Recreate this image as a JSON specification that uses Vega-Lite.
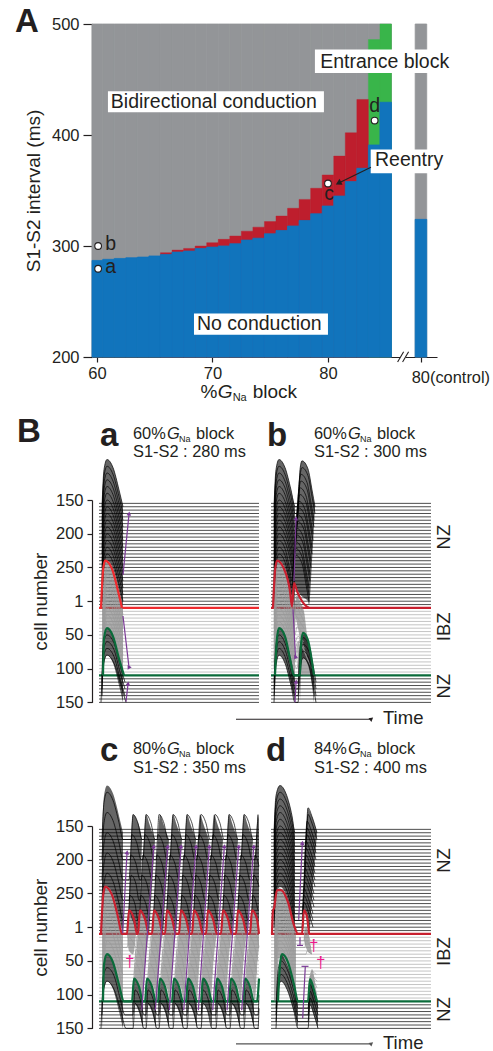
{"$schema":"https://vega.github.io/schema/vega-lite/v6.json","background":"white","padding":{"left":14,"top":5,"right":0,"bottom":0},"spacing":6,
"config":{"view":{"stroke":null},"axis":{"grid":false,"labelFont":"Liberation Sans","titleFont":"Liberation Sans","labelFontSize":16.5,"titleFontSize":19,"titleFontWeight":"normal","labelColor":"#231f20","titleColor":"#231f20","domainColor":"#231f20","tickColor":"#231f20","domainWidth":1.2,"tickWidth":1.2,"labelOverlap":false,"labelBound":false}},
"datasets":{
"col":[{"l":59.57,"u":60.5,"o":200,"h":500,"b":287,"r":287,"g":287},{"l":60.5,"u":61.5,"o":200,"h":500,"b":288,"r":288,"g":288},{"l":61.5,"u":62.5,"o":200,"h":500,"b":288.8,"r":288.8,"g":288.8},{"l":62.5,"u":63.5,"o":200,"h":500,"b":289.4,"r":289.4,"g":289.4},{"l":63.5,"u":64.5,"o":200,"h":500,"b":290,"r":290,"g":290},{"l":64.5,"u":65.5,"o":200,"h":500,"b":291,"r":291,"g":291},{"l":65.5,"u":66.5,"o":200,"h":500,"b":292.4,"r":294,"g":294},{"l":66.5,"u":67.5,"o":200,"h":500,"b":294.5,"r":296.3,"g":296.3},{"l":67.5,"u":68.5,"o":200,"h":500,"b":295.4,"r":297.8,"g":297.8},{"l":68.5,"u":69.5,"o":200,"h":500,"b":297.8,"r":300,"g":300},{"l":69.5,"u":70.5,"o":200,"h":500,"b":299,"r":303,"g":303},{"l":70.5,"u":71.5,"o":200,"h":500,"b":300,"r":306,"g":306},{"l":71.5,"u":72.5,"o":200,"h":500,"b":302,"r":309,"g":309},{"l":72.5,"u":73.5,"o":200,"h":500,"b":305.3,"r":313.4,"g":313.4},{"l":73.5,"u":74.5,"o":200,"h":500,"b":307,"r":317,"g":317},{"l":74.5,"u":75.5,"o":200,"h":500,"b":311,"r":322,"g":322},{"l":75.5,"u":76.5,"o":200,"h":500,"b":314,"r":327,"g":327},{"l":76.5,"u":77.5,"o":200,"h":500,"b":318,"r":334,"g":334},{"l":77.5,"u":78.5,"o":200,"h":500,"b":323,"r":342,"g":342},{"l":78.5,"u":79.5,"o":200,"h":500,"b":329,"r":352,"g":352},{"l":79.5,"u":80.5,"o":200,"h":500,"b":336,"r":364,"g":364},{"l":80.5,"u":81.5,"o":200,"h":500,"b":345,"r":381,"g":381},{"l":81.5,"u":82.5,"o":200,"h":500,"b":358,"r":402,"g":402},{"l":82.5,"u":83.5,"o":200,"h":500,"b":370,"r":432,"g":432},{"l":83.5,"u":84.5,"o":200,"h":500,"b":391,"r":391,"g":486},{"l":84.5,"u":85.5,"o":200,"h":500,"b":429.5,"r":429.5,"g":500},{"l":87.55,"u":88.55,"o":200,"h":500,"b":324,"r":324,"g":324}],
"box":[{"l":60.95,"u":79.65,"b":420.5,"h":439.4},{"l":78.87,"u":91,"b":455.9,"h":477},{"l":83.7,"u":90.4,"b":365.6,"h":386.9},{"l":68.4,"u":80,"b":220,"h":239.3},{"l":86.25,"u":86.75,"b":198.5,"h":201.5},{"l":60,"u":60.1,"b":153.2,"h":153.3}],
"pts":[{"t":60.1,"y":279.5},{"t":60.1,"y":300},{"t":80,"y":356.3},{"t":84.04,"y":413}],
"arr":[{"p":"A","t":83.72,"y":371,"e":80.98,"f":357,"d":"A"},{"p":"A","t":86.03,"y":195.5,"e":86.55,"f":204.8,"d":"K"},{"p":"A","t":86.46,"y":195.5,"e":86.98,"f":204.8,"d":"K"},
{"p":"a","t":31,"y":111,"e":37,"f":21,"d":"u"},{"p":"a","t":31,"y":172,"e":37,"f":248,"d":"d"},{"p":"a","t":34,"y":299,"e":36,"f":273,"d":"u"},{"p":"a","t":144,"y":325,"e":279,"f":325,"d":"T"},
{"p":"b","t":23,"y":120,"e":25,"f":28,"d":"u"},{"p":"b","t":22,"y":162,"e":24.5,"f":233,"d":"d"},{"p":"b","t":24,"y":300,"e":25,"f":270,"d":"u"},
{"p":"c","t":30.7,"y":159,"e":35,"f":40,"d":"u"},{"p":"c","t":49.7,"y":273,"e":61.7,"f":31,"d":"u"},{"p":"c","t":63.3,"y":273,"e":75.7,"f":31,"d":"u"},{"p":"c","t":77.3,"y":273,"e":89,"f":31,"d":"u"},{"p":"c","t":91.7,"y":273,"e":104,"f":31,"d":"u"},{"p":"c","t":106.3,"y":273,"e":117.3,"f":31,"d":"u"},{"p":"c","t":120.7,"y":273,"e":132.3,"f":31,"d":"u"},{"p":"c","t":135,"y":273,"e":146.7,"f":31,"d":"u"},{"p":"c","t":149.7,"y":273,"e":161.7,"f":31,"d":"u"},{"p":"c","t":144,"y":323,"e":279,"f":323,"d":"T"},
{"p":"d","t":27.7,"y":139,"e":31.3,"f":26,"d":"u"},{"p":"d","t":29,"y":165,"e":29,"f":177,"d":"n"},{"p":"d","t":26,"y":177,"e":32,"f":177,"d":"n"},{"p":"d","t":31.7,"y":285,"e":34.3,"f":208,"d":"n"},{"p":"d","t":30.5,"y":208,"e":37.5,"f":208,"d":"n"}],
"txt":[{"p":"A","t":52.9,"y":492.8,"s":"A","k":"b"},{"p":"A","t":61.2,"y":424.4,"s":"Bidirectional conduction","k":"t"},{"p":"A","t":79.33,"y":460.4,"s":"Entrance block","k":"t"},{"p":"A","t":84.07,"y":372.2,"s":"Reentry","k":"t"},{"p":"A","t":68.66,"y":224.3,"s":"No conduction","k":"t"},{"p":"A","t":60.72,"y":275.9,"s":"a","k":"t"},{"p":"A","t":60.72,"y":296.3,"s":"b","k":"t"},{"p":"A","t":79.68,"y":341,"s":"c","k":"t"},{"p":"A","t":83.58,"y":420.8,"s":"d","k":"t"},{"p":"A","t":87.25,"y":176.6,"s":"80(control)","k":"n"},{"p":"A","t":68.96,"y":163,"s":"%","k":"x"},{"p":"A","t":70.45,"y":163,"s":"G","k":"y"},{"p":"A","t":71.75,"y":160.4,"s":"Na","k":"z"},{"p":"A","t":73.48,"y":163,"s":"block","k":"x"},
{"p":"a","t":-75,"y":-86,"s":"B","k":"b"},{"p":"a","t":8,"y":-80,"s":"a","k":"b"},{"p":"a","t":41,"y":-90,"s":"60%","k":"n"},{"p":"a","t":75,"y":-90,"s":"G","k":"i"},{"p":"a","t":87,"y":-86,"s":"Na","k":"s"},{"p":"a","t":104,"y":-90,"s":"block","k":"n"},{"p":"a","t":41,"y":-64,"s":"S1-S2 : 280 ms","k":"n"},
{"p":"b","t":-4,"y":-80,"s":"b","k":"b"},{"p":"b","t":43,"y":-90,"s":"60%","k":"n"},{"p":"b","t":77,"y":-90,"s":"G","k":"i"},{"p":"b","t":89,"y":-86,"s":"Na","k":"s"},{"p":"b","t":106,"y":-90,"s":"block","k":"n"},{"p":"b","t":43,"y":-64,"s":"S1-S2 : 300 ms","k":"n"},{"p":"b","t":112,"y":332,"s":"Time","k":"t"},{"p":"b","t":179,"y":55,"s":"NZ","k":"r"},{"p":"b","t":179,"y":188,"s":"IBZ","k":"r"},{"p":"b","t":179,"y":276,"s":"NZ","k":"r"},
{"p":"c","t":8,"y":-97,"s":"c","k":"b"},{"p":"c","t":41,"y":-107,"s":"80%","k":"n"},{"p":"c","t":75,"y":-107,"s":"G","k":"i"},{"p":"c","t":87,"y":-103,"s":"Na","k":"s"},{"p":"c","t":104,"y":-107,"s":"block","k":"n"},{"p":"c","t":41,"y":-79,"s":"S1-S2 : 350 ms","k":"n"},{"p":"c","t":33,"y":209,"s":"†","k":"d"},
{"p":"d","t":-5,"y":-97,"s":"d","k":"b"},{"p":"d","t":43,"y":-107,"s":"84%","k":"n"},{"p":"d","t":77,"y":-107,"s":"G","k":"i"},{"p":"d","t":89,"y":-103,"s":"Na","k":"s"},{"p":"d","t":106,"y":-107,"s":"block","k":"n"},{"p":"d","t":43,"y":-79,"s":"S1-S2 : 400 ms","k":"n"},{"p":"d","t":112,"y":331,"s":"Time","k":"t"},{"p":"d","t":179,"y":51,"s":"NZ","k":"r"},{"p":"d","t":179,"y":186,"s":"IBZ","k":"r"},{"p":"d","t":179,"y":272,"s":"NZ","k":"r"},{"p":"d","t":38,"y":186,"s":"†","k":"d"},{"p":"d","t":45,"y":211,"s":"†","k":"d"}],
"base":[{"y":5,"t":7,"e":167,"u":0,"w":160},{"y":10,"t":7,"e":167,"u":0,"w":160},{"y":15,"t":7,"e":167,"u":0,"w":160},{"y":20,"t":7,"e":167,"u":0,"w":160},{"y":25,"t":7,"e":167,"u":0,"w":160},{"y":30,"t":7,"e":167,"u":0,"w":160},{"y":35,"t":7,"e":167,"u":0,"w":160},{"y":40,"t":7,"e":167,"u":0,"w":160},{"y":45,"t":7,"e":167,"u":0,"w":160},{"y":50,"t":7,"e":167,"u":0,"w":160},{"y":55,"t":7,"e":167,"u":0,"w":160},{"y":60,"t":7,"e":167,"u":0,"w":160},{"y":65,"t":7,"e":167,"u":0,"w":160},{"y":70,"t":7,"e":167,"u":0,"w":160},{"y":75,"t":7,"e":167,"u":0,"w":160},{"y":80,"t":7,"e":167,"u":0,"w":160},{"y":85,"t":7,"e":167,"u":0,"w":160},{"y":90,"t":7,"e":167,"u":0,"w":160},{"y":95,"t":7,"e":167,"u":0,"w":160},{"y":100,"t":7,"e":167,"u":0,"w":160},{"y":105,"t":7,"e":167,"u":0,"w":160},{"y":110,"t":7,"e":167,"u":0,"w":160},{"y":115,"t":7,"e":167,"u":0,"w":160},{"y":120,"t":7,"e":167,"u":0,"w":160},{"y":125,"t":7,"e":167,"u":0,"w":160},{"y":130,"t":7,"e":167,"u":0,"w":160},{"y":135,"t":7,"e":167,"u":0,"w":160},{"y":140,"t":7,"e":167,"u":0,"w":160},{"y":145,"t":7,"e":167,"u":0,"w":160},{"y":150,"t":7,"e":167,"u":0,"w":160},{"y":155,"t":7,"e":167,"u":0,"w":160},{"y":165,"t":7,"e":167,"u":0,"w":160},{"y":170,"t":7,"e":167,"u":0,"w":160},{"y":175,"t":7,"e":167,"u":0,"w":160},{"y":180,"t":7,"e":167,"u":0,"w":160},{"y":185,"t":7,"e":167,"u":0,"w":160},{"y":190,"t":7,"e":167,"u":0,"w":160},{"y":195,"t":7,"e":167,"u":0,"w":160},{"y":200,"t":7,"e":167,"u":0,"w":160},{"y":205,"t":7,"e":167,"u":0,"w":160},{"y":210,"t":7,"e":167,"u":0,"w":160},{"y":215,"t":7,"e":167,"u":0,"w":160},{"y":220,"t":7,"e":167,"u":0,"w":160},{"y":225,"t":7,"e":167,"u":0,"w":160},{"y":230,"t":7,"e":167,"u":0,"w":160},{"y":235,"t":7,"e":167,"u":0,"w":160},{"y":240,"t":7,"e":167,"u":0,"w":160},{"y":245,"t":7,"e":167,"u":0,"w":160},{"y":250,"t":7,"e":167,"u":0,"w":160},{"y":255,"t":7,"e":167,"u":0,"w":160},{"y":265,"t":7,"e":167,"u":0,"w":160},{"y":270,"t":7,"e":167,"u":0,"w":160},{"y":275,"t":7,"e":167,"u":0,"w":160},{"y":280,"t":7,"e":167,"u":0,"w":160},{"y":285,"t":7,"e":167,"u":0,"w":160},{"y":290,"t":7,"e":167,"u":0,"w":160},{"y":295,"t":7,"e":167,"u":0,"w":160},{"y":300,"t":7,"e":167,"u":0,"w":160},{"y":160,"t":7,"e":167,"u":0,"w":160},{"y":260,"t":7,"e":167,"u":0,"w":160}],
"ra":[{"z":"N","b":1,"t":[10,12,15,21,27,31],"y":[10,-45,-60,-48,-15,10],"e":[160,105,90,102,135,160]},{"z":"G","b":2,"t":[10,12,15,21,27,31],"y":[160,105,90,102,135,160],"e":[260,205,190,202,235,260]},{"z":"L","b":3,"t":[10,12,15,21,27,31],"y":[260,205,190,202,235,260],"e":[300,245,230,242,275,300]}],
"la":[{"n":10,"t":[10,12,15,21,27,31],"y":[10,-45,-60,-48,-15,10]},{"n":20,"t":[10,12,15,21,27,31],"y":[20,-35,-50,-38,-5,20]},{"n":30,"t":[10,12,15,21,27,31],"y":[30,-25,-40,-28,5,30]},{"n":40,"t":[10,12,15,21,27,31],"y":[40,-15,-30,-18,15,40]},{"n":50,"t":[10,12,15,21,27,31],"y":[50,-5,-20,-8,25,50]},{"n":60,"t":[10,12,15,21,27,31],"y":[60,5,-10,2,35,60]},{"n":70,"t":[10,12,15,21,27,31],"y":[70,15,0,12,45,70]},{"n":80,"t":[10,12,15,21,27,31],"y":[80,25,10,22,55,80]},{"n":90,"t":[10,12,15,21,27,31],"y":[90,35,20,32,65,90]},{"n":100,"t":[10,12,15,21,27,31],"y":[100,45,30,42,75,100]},{"n":110,"t":[10,12,15,21,27,31],"y":[110,55,40,52,85,110]},{"n":120,"t":[10,12,15,21,27,31],"y":[120,65,50,62,95,120]},{"n":130,"t":[10,12,15,21,27,31],"y":[130,75,60,72,105,130]},{"n":140,"t":[10,12,15,21,27,31],"y":[140,85,70,82,115,140]},{"n":150,"t":[10,12,15,21,27,31],"y":[150,95,80,92,125,150]},
{"n":170,"t":[11,13,15,21,27,31],"y":[170,115,100,112,145,170]},{"n":180,"t":[11,13,15,21,27,31],"y":[180,125,110,122,155,180]},{"n":190,"t":[11,13,15,21,27,31],"y":[190,135,120,132,165,190]},{"n":200,"t":[11,13,15,21,27,31],"y":[200,145,130,142,175,200]},{"n":210,"t":[11,13,15,21,27,31],"y":[210,155,140,152,185,210]},{"n":220,"t":[11,13,15,21,27,31],"y":[220,165,150,162,195,220]},{"n":230,"t":[11,13,15,21,27,31],"y":[230,175,160,172,205,230]},{"n":240,"t":[11,13,15,21,27,31],"y":[240,185,170,182,215,240]},{"n":250,"t":[11,13,15,21,27,31],"y":[250,195,180,192,225,250]},
{"n":270,"t":[10,11,15,22,28,33],"y":[270,215,200,212,245,270]},{"n":280,"t":[10,11,15,22,28,33],"y":[280,225,210,222,255,280]},{"n":290,"t":[10,11,15,22,28,33],"y":[290,235,220,232,265,290]},{"n":300,"t":[9,11,15,22,29,34],"y":[300,245,230,242,275,300]},{"n":160,"t":[9,11,13,20,26,30],"y":[160,105,90,102,135,160]},{"n":260,"t":[11,12,15,21,27,32],"y":[260,205,190,202,235,260]}],
"rb":[{"z":"N","b":1,"t":[3,5,8,14,20,24],"y":[10,-45,-60,-48,-15,10],"e":[160,105,90,102,135,160]},{"z":"G","b":2,"t":[3,5,8,14,20,24],"y":[160,105,90,102,135,160],"e":[260,205,190,202,235,260]},{"z":"L","b":3,"t":[3,5,8,14,20,24],"y":[260,205,190,202,235,260],"e":[300,245,230,242,275,300]},{"z":"N","b":4,"t":[23,27,29,31,37,38,41,44],"y":[120,10,-45,-58,-46,-40,-15,10],"e":[125,135,140,143,150,155,90,10]},{"z":"G","b":5,"t":[23,27,29,33,36,41],"y":[160,140,150,165,200,250],"e":[165,190,205,225,235,250]},{"z":"G","b":6,"t":[27,29,32,37,41,43],"y":[230,212,205,210,240,260],"e":[250,258,260,260,260,260]},{"z":"L","b":7,"t":[29,30,32,37,41,43],"y":[260,215,197,208,240,260],"e":[300,255,234,245,275,300]}],
"lb":[{"n":10,"t":[3,5,8,14,20,24,27,29,31,37,41,44],"y":[10,-45,-60,-48,-15,10,10,-45,-58,-46,-15,10]},{"n":20,"t":[3,5,8,14,20,24,27,29,31,37,41,44],"y":[20,-35,-50,-38,-5,20,20,-35,-48,-36,-5,20]},{"n":30,"t":[3,5,8,14,20,24,26,28,30,36,40,43],"y":[30,-25,-40,-28,5,30,30,-25,-38,-26,5,30]},{"n":40,"t":[3,5,8,14,20,24,26,28,30,36,40,43],"y":[40,-15,-30,-18,15,40,40,-15,-28,-16,15,40]},{"n":50,"t":[3,5,8,14,20,24,25,27,29,35,39,42],"y":[50,-5,-20,-8,25,50,50,-5,-18,-6,25,50]},{"n":60,"t":[3,5,8,14,20,24,25,27,29,35,39,42],"y":[60,5,-10,2,35,60,60,5,-8,4,35,60]},{"n":70,"t":[3,5,8,14,20,24,26,28,34,38,41],"y":[70,15,0,12,45,70,15,2,14,45,70]},{"n":80,"t":[3,5,8,14,20,24,26,28,34,38,41],"y":[80,25,10,22,55,80,25,12,24,55,80]},{"n":90,"t":[3,5,8,14,20,23,25,27,33,37,40],"y":[90,35,20,32,65,86,35,22,34,65,90]},{"n":100,"t":[3,5,8,14,20,23,25,27,33,37,40],"y":[100,45,30,42,75,96,45,32,44,75,100]},{"n":110,"t":[3,5,8,14,20,22,24,26,32,36,39],"y":[110,55,40,52,85,102,55,42,54,85,110]},{"n":120,"t":[3,5,8,14,20,22,24,26,32,36,39],"y":[120,65,50,62,95,112,65,52,64,95,120]},{"n":130,"t":[3,5,8,14,19,21,23,25,31,35,38],"y":[130,75,60,72,105,120,75,62,74,105,130]},{"n":140,"t":[3,5,8,14,19,21,23,25,31,35,38],"y":[140,85,70,82,115,130,85,72,84,115,140]},{"n":150,"t":[3,5,8,14,19,21,23,25,31,35,38],"y":[150,95,80,92,125,140,95,82,94,125,150]},
{"n":170,"t":[3,5,7,14,20,22,24,28,33],"y":[170,115,100,112,145,170,140,155,170]},{"n":180,"t":[3,5,7,14,20,23,25,29,33],"y":[180,125,110,122,155,180,156,168,180]},{"n":190,"t":[3,5,7,14,20,23,25,29,33],"y":[190,135,120,132,165,190,172,181,190]},{"n":200,"t":[3,5,7,14,20,24,26,30,33],"y":[200,145,130,142,175,200,188,194,200]},{"n":210,"t":[3,5,7,14,20,24,27,30,33],"y":[210,155,140,152,185,210,202,206,210]},{"n":220,"t":[3,5,7,14,20,24,27,31,34],"y":[220,165,150,162,195,220,210,215,220]},{"n":230,"t":[3,5,7,14,20,24,28,32,36],"y":[230,175,160,172,205,230,210,220,230]},{"n":240,"t":[3,5,7,14,20,24,29,33,38],"y":[240,185,170,182,215,240,208,224,240]},{"n":250,"t":[3,5,7,14,20,26,29,34,41],"y":[250,195,180,192,225,250,202,226,250]},
{"n":270,"t":[3,5,8,14,20,24,27,29,32,38,42,45],"y":[270,215,200,212,245,270,270,220,204,215,245,270]},{"n":280,"t":[3,5,8,14,20,24,27,29,32,38,42,45],"y":[280,225,210,222,255,280,280,230,214,225,255,280]},{"n":290,"t":[3,5,8,14,20,24,27,29,32,38,42,45],"y":[290,235,220,232,265,290,290,240,224,235,265,290]},{"n":300,"t":[3,5,8,14,20,24,27,29,32,38,42,45],"y":[300,245,230,242,275,300,300,250,234,245,275,300]},{"n":160,"t":[2,4,6,13,19,21,23,26,33,38],"y":[160,105,90,102,135,158,123,135,154,160]},{"n":260,"t":[4,6,8,14,19,23,29,30,32,37,41,43],"y":[260,205,190,202,235,260,260,215,197,208,240,260]}],
"rc":[{"z":"N","b":1,"t":[10,12,15,21,27,31],"y":[10,-45,-60,-48,-15,10],"e":[160,105,90,102,135,160]},{"z":"G","b":2,"t":[10,12,15,21,27,31],"y":[160,105,90,102,135,160],"e":[260,205,190,202,235,260]},{"z":"L","b":3,"t":[10,12,15,21,27,31],"y":[260,205,190,202,235,260],"e":[300,245,230,242,275,300]},{"z":"G","b":4,"t":[35,37,41,44],"y":[160,125,138,160],"e":[160,185,190,160]},
{"z":"N","b":10,"t":[35,37,39,41,46,48,50],"y":[160,113,20,-17,-5,4,20],"e":[160,125,135,142,160,113,20]},{"z":"N","b":11,"t":[46,48,52,54,57,59,63],"y":[160,113,20,-17,-5,4,20],"e":[160,125,135,142,160,113,20]},{"z":"N","b":12,"t":[60,62,66,68,71,73,77],"y":[160,113,20,-17,-5,4,20],"e":[160,125,135,142,160,113,20]},{"z":"N","b":13,"t":[73,75,79,81,84,86,90],"y":[160,113,20,-17,-5,4,20],"e":[160,125,135,142,160,113,20]},{"z":"N","b":14,"t":[87,89,93,95,98,100,104],"y":[160,113,20,-17,-5,4,20],"e":[160,125,135,142,160,113,20]},{"z":"N","b":15,"t":[100,102,106,108,111,113,117],"y":[160,113,20,-17,-5,4,20],"e":[160,125,135,142,160,113,20]},{"z":"N","b":16,"t":[114,116,120,122,125,127,131],"y":[160,113,20,-17,-5,4,20],"e":[160,125,135,142,160,113,20]},{"z":"N","b":17,"t":[129,131,135,137,140,142,146],"y":[160,113,20,-17,-5,4,20],"e":[160,125,135,142,160,113,20]},{"z":"N","b":18,"t":[144,146,150,152,155,157,161],"y":[160,113,20,-17,-5,4,20],"e":[160,125,135,142,160,113,20]},{"z":"N","b":19,"t":[158,160,164,166,167],"y":[160,113,20,-17,-10],"e":[160,125,135,142,150]},
{"z":"G","b":21,"t":[40,42,46,48,51,53,57],"y":[260,227,160,125,132,138,160],"e":[260,225,235,240,260,210,160]},{"z":"G","b":22,"t":[54,56,60,62,65,67,71],"y":[260,227,160,125,132,138,160],"e":[260,225,235,240,260,210,160]},{"z":"G","b":23,"t":[67,69,73,75,78,80,84],"y":[260,227,160,125,132,138,160],"e":[260,225,235,240,260,210,160]},{"z":"G","b":24,"t":[81,83,87,89,92,94,98],"y":[260,227,160,125,132,138,160],"e":[260,225,235,240,260,210,160]},{"z":"G","b":25,"t":[94,96,100,102,105,107,111],"y":[260,227,160,125,132,138,160],"e":[260,225,235,240,260,210,160]},{"z":"G","b":26,"t":[108,110,114,116,119,121,125],"y":[260,227,160,125,132,138,160],"e":[260,225,235,240,260,210,160]},{"z":"G","b":27,"t":[123,125,129,131,134,136,140],"y":[260,227,160,125,132,138,160],"e":[260,225,235,240,260,210,160]},{"z":"G","b":28,"t":[138,140,144,146,149,151,155],"y":[260,227,160,125,132,138,160],"e":[260,225,235,240,260,210,160]},{"z":"G","b":29,"t":[152,154,158,160,163,165,167],"y":[260,227,160,125,132,138,150],"e":[260,225,235,240,260,210,180]},
{"z":"L","b":31,"t":[40,42,47,51],"y":[260,225,238,260],"e":[300,263,276,300]},{"z":"L","b":32,"t":[53,55,60,64],"y":[260,225,238,260],"e":[300,263,276,300]},{"z":"L","b":33,"t":[66,68,73,77],"y":[260,225,238,260],"e":[300,263,276,300]},{"z":"L","b":34,"t":[80,82,87,91],"y":[260,225,238,260],"e":[300,263,276,300]},{"z":"L","b":35,"t":[94,96,101,105],"y":[260,225,238,260],"e":[300,263,276,300]},{"z":"L","b":36,"t":[109,111,116,120],"y":[260,225,238,260],"e":[300,263,276,300]},{"z":"L","b":37,"t":[123,125,130,134],"y":[260,225,238,260],"e":[300,263,276,300]},{"z":"L","b":38,"t":[137,139,144,148],"y":[260,225,238,260],"e":[300,263,276,300]},{"z":"L","b":39,"t":[151,153,158,162],"y":[260,225,238,260],"e":[300,263,276,300]}],
"lc":[{"n":20,"t":[10,12,15,21,27,31,39,41,46,50,52,54,59,63,65,67,72,76,79,81,86,90,93,95,100,104,107,109,114,118,121,123,128,132,135,137,142,146,150,152,157,161,164,166],"y":[20,-35,-50,-38,-5,20,20,-17,-4,20,20,-17,-4,20,20,-17,-4,20,20,-17,-4,20,20,-17,-4,20,20,-17,-4,20,20,-17,-4,20,20,-17,-4,20,20,-17,-4,20,20,-17]},
{"n":50,"t":[10,12,15,21,27,31,38,40,45,49,51,53,58,62,64,66,71,75,78,80,85,89,92,94,99,103,105,107,112,116,119,121,126,130,134,136,141,145,149,151,156,160,163,165],"y":[50,-5,-20,-8,25,50,50,13,26,50,50,13,26,50,50,13,26,50,50,13,26,50,50,13,26,50,50,13,26,50,50,13,26,50,50,13,26,50,50,13,26,50,50,13]},
{"n":80,"t":[10,12,15,21,27,31,37,39,44,48,49,51,56,60,63,65,70,74,76,78,83,87,90,92,97,101,103,105,110,114,117,119,124,128,132,134,139,143,147,149,154,158,161,163,167],"y":[80,25,10,22,55,80,80,43,56,80,80,43,56,80,80,43,56,80,80,43,56,80,80,43,56,80,80,43,56,80,80,43,56,80,80,43,56,80,80,43,56,80,80,43,60]},
{"n":110,"t":[10,12,15,21,27,31,37,39,44,47,48,50,55,59,62,64,69,73,75,77,82,86,89,91,96,100,102,104,109,113,116,118,123,127,131,133,138,142,146,148,153,157,160,162,167],"y":[110,55,40,52,85,110,110,73,86,110,110,73,86,110,110,73,86,110,110,73,86,110,110,73,86,110,110,73,86,110,110,73,86,110,110,73,86,110,110,73,86,110,110,73,90]},
{"n":140,"t":[10,12,15,21,27,31,36,38,43,46,47,49,54,58,61,63,68,72,74,76,81,85,88,90,95,99,101,103,108,112,115,117,122,126,130,132,137,141,145,147,152,156,159,161,166],"y":[140,85,70,82,115,140,140,103,116,140,140,103,116,140,140,103,116,140,140,103,116,140,140,103,116,140,140,103,116,140,140,103,116,140,140,103,116,140,140,103,116,140,140,103,125]},
{"n":180,"t":[11,13,15,21,27,31,35,37,41,44,45,47,52,56,59,61,66,70,72,74,79,83,86,88,93,97,99,101,106,110,113,115,120,124,128,130,135,139,143,145,150,154,157,159,164,167],"y":[180,125,110,122,155,180,180,165,172,180,180,145,158,180,180,145,158,180,180,145,158,180,180,145,158,180,180,145,158,180,180,145,158,180,180,145,158,180,180,145,158,180,180,145,158,180]},
{"n":200,"t":[11,13,15,21,27,31,43,45,50,54,57,59,64,68,70,72,77,81,84,86,91,95,97,99,104,108,111,113,118,122,126,128,133,137,141,143,148,152,155,157,162,166],"y":[200,145,130,142,175,200,200,163,176,200,200,163,176,200,200,163,176,200,200,163,176,200,200,163,176,200,200,163,176,200,200,163,176,200,200,163,176,200,200,163,176,200]},
{"n":220,"t":[11,13,15,21,27,31,42,44,49,53,56,58,63,67,69,71,76,80,83,85,90,94,96,98,103,107,110,112,117,121,125,127,132,136,140,142,147,151,154,156,161,165],"y":[220,165,150,162,195,220,220,183,196,220,220,183,196,220,220,183,196,220,220,183,196,220,220,183,196,220,220,183,196,220,220,183,196,220,220,183,196,220,220,183,196,220]},
{"n":240,"t":[11,13,15,21,27,31,41,43,48,52,55,57,62,66,68,70,75,79,82,84,89,93,95,97,102,106,109,111,116,120,124,126,131,135,139,141,146,150,153,155,160,164],"y":[240,185,170,182,215,240,240,203,216,240,240,203,216,240,240,203,216,240,240,203,216,240,240,203,216,240,240,203,216,240,240,203,216,240,240,203,216,240,240,203,216,240]},
{"n":280,"t":[10,11,15,22,28,33,41,43,48,52,54,56,61,65,67,69,74,78,81,83,88,92,95,97,102,106,109,111,116,120,124,126,131,135,138,140,145,149,152,154,159,163,166,167],"y":[280,225,210,222,255,280,280,243,256,280,280,243,256,280,280,243,256,280,280,243,256,280,280,243,256,280,280,243,256,280,280,243,256,280,280,243,256,280,280,243,256,280,280,250]},
{"n":300,"t":[9,11,15,22,29,34,41,43,48,52,54,56,61,65,67,69,74,78,81,83,88,92,95,97,102,106,109,111,116,120,124,126,131,135,138,140,145,149,152,154,159,163,166,167],"y":[300,245,230,242,275,300,300,263,276,300,300,263,276,300,300,263,276,300,300,263,276,300,300,263,276,300,300,263,276,300,300,263,276,300,300,263,276,300,300,263,276,300,300,270]},
{"n":160,"t":[9,11,13,20,26,30,35,37,42,45,46,48,53,57,60,62,67,71,73,75,80,84,87,89,94,98,100,102,107,111,114,116,121,125,129,131,136,140,144,146,151,155,158,160,165,167],"y":[160,105,90,102,135,160,160,125,138,160,160,125,138,160,160,125,138,160,160,125,138,160,160,125,138,160,160,125,138,160,160,125,138,160,160,125,138,160,160,125,138,160,160,125,138,160]},
{"n":260,"t":[11,12,15,21,27,32,40,42,47,51,53,55,60,64,66,68,73,77,80,82,87,91,94,96,101,105,109,111,116,120,123,125,130,134,137,139,144,148,151,153,158,162,165,167],"y":[260,205,190,202,235,260,260,226,238,260,260,226,238,260,260,226,238,260,260,226,238,260,260,226,238,260,260,226,238,260,260,226,238,260,260,226,238,260,260,226,238,260,260,226]}],
"rd":[{"z":"N","b":1,"t":[3,5,9,15,21,24],"y":[10,-45,-60,-48,-15,10],"e":[160,105,90,102,135,160]},{"z":"G","b":2,"t":[3,5,8,15,21,25],"y":[160,105,92,102,135,160],"e":[260,260,195,205,235,260]},{"z":"L","b":3,"t":[5,7,10,16,23,27],"y":[260,255,190,205,235,260],"e":[300,245,230,242,275,300]},{"z":"N","b":4,"t":[31,33,35,36,37,38,41,46],"y":[160,85,10,-10,-27,-24,-14,10],"e":[160,125,130,135,148,160,104,10]},{"z":"G","b":5,"t":[33,35,38,41],"y":[165,150,165,190],"e":[170,180,188,190]},{"z":"G","b":6,"t":[37,39,41,43,46],"y":[250,225,212,222,260],"e":[260,260,260,260,260]},{"z":"L","b":7,"t":[37,39,43,47],"y":[260,227,243,260],"e":[300,265,280,300]}],
"ld":[{"n":10,"t":[3,5,9,15,21,24,35,37,41,46],"y":[10,-45,-60,-48,-15,10,10,-27,-14,10]},{"n":20,"t":[3,5,9,15,21,24,35,37,41,46],"y":[20,-35,-50,-38,-5,20,20,-17,-4,20]},{"n":30,"t":[3,5,9,15,21,24,34,36,40,45],"y":[30,-25,-40,-28,5,30,30,-7,6,30]},{"n":40,"t":[3,5,9,15,21,24,34,36,40,45],"y":[40,-15,-30,-18,15,40,40,3,16,40]},{"n":50,"t":[3,5,9,15,21,24,34,36,40,45],"y":[50,-5,-20,-8,25,50,50,13,26,50]},{"n":60,"t":[3,5,9,15,21,24,33,35,39,44],"y":[60,5,-10,2,35,60,60,23,36,60]},{"n":70,"t":[3,5,9,15,21,24,33,35,39,44],"y":[70,15,0,12,45,70,70,33,46,70]},{"n":80,"t":[3,5,9,15,21,24,33,35,39,44],"y":[80,25,10,22,55,80,80,43,56,80]},{"n":90,"t":[3,5,9,15,21,24,33,35,39,44],"y":[90,35,20,32,65,90,90,53,66,90]},{"n":100,"t":[3,5,9,15,21,24,32,34,38,43],"y":[100,45,30,42,75,100,100,63,76,100]},{"n":110,"t":[3,5,9,15,21,24,32,34,38,43],"y":[110,55,40,52,85,110,110,73,86,110]},{"n":120,"t":[3,5,9,15,21,24,32,34,38,43],"y":[120,65,50,62,95,120,120,83,96,120]},{"n":130,"t":[3,5,9,15,21,24,31,33,37,42],"y":[130,75,60,72,105,130,130,93,106,130]},{"n":140,"t":[3,5,9,15,21,24,31,33,37,42],"y":[140,85,70,82,115,140,140,103,116,140]},{"n":150,"t":[3,5,9,15,21,24,31,33,37,42],"y":[150,95,80,92,125,150,150,113,126,150]},
{"n":170,"t":[4,6,8,15,21,24,33,34,37,39],"y":[170,115,100,112,145,170,170,150,160,170]},{"n":180,"t":[4,6,8,15,21,24,34,35,38,40],"y":[180,125,110,122,155,180,180,170,175,180]},{"n":190,"t":[4,6,8,15,21,24,35,36,38,41],"y":[190,135,120,132,165,190,190,185,187,190]},{"n":200,"t":[4,6,8,15,21,24],"y":[200,145,130,142,175,200]},{"n":210,"t":[4,6,8,15,21,24],"y":[210,155,140,152,185,210]},{"n":220,"t":[4,6,8,15,21,24,39,41,43,45],"y":[220,165,150,162,195,220,220,215,217,220]},{"n":230,"t":[4,6,8,15,21,24,38,41,43,46],"y":[230,175,160,172,205,230,230,220,225,230]},{"n":240,"t":[4,6,8,15,21,24,38,40,43,46],"y":[240,185,170,182,215,240,240,220,230,240]},{"n":250,"t":[4,6,8,15,21,24,37,39,43,46],"y":[250,195,180,192,225,250,250,222,236,250]},
{"n":270,"t":[5,7,10,16,23,27,37,39,43,47],"y":[270,215,200,212,245,270,270,235,250,270]},{"n":280,"t":[5,7,10,16,23,27,37,39,43,47],"y":[280,225,210,222,255,280,280,245,260,280]},{"n":290,"t":[5,7,10,16,23,27,37,39,43,47],"y":[290,235,220,232,265,290,290,255,270,290]},{"n":300,"t":[5,7,10,16,23,27,37,39,43,47],"y":[300,245,230,242,275,300,300,265,280,300]},{"n":160,"t":[1,2,3,6,10,17,23,27,31,33,36,38],"y":[160,125,122,95,95,113,147,160,160,125,135,160]},{"n":260,"t":[7,9,11,17,23,27,37,39,43,46],"y":[260,205,190,202,235,260,260,227,243,260]}]
},
"vconcat":[
{"width":345,"height":333,"encoding":{"x":{"field":"t","type":"quantitative","title":null,"scale":{"domain":[59.57,89.44]},"axis":{"values":[60,70,80,88.05],"labelExpr":"datum.value>85?'':datum.value","tickSize":5,"labelPadding":3}},"y":{"field":"y","type":"quantitative","title":"S1-S2 interval (ms)","scale":{"domain":[200,500]},"axis":{"values":[200,300,400,500],"tickSize":9,"labelPadding":4,"titlePadding":8}}},
"layer":[
{"data":{"name":"col"},"mark":{"type":"rect","color":"#939598","stroke":"#939598","strokeWidth":0.8},"encoding":{"x":{"field":"l","type":"quantitative","title":null},"x2":{"field":"u"},"y":{"field":"o","type":"quantitative","title":"S1-S2 interval (ms)"},"y2":{"field":"h"}}},
{"data":{"name":"col"},"mark":{"type":"rect","color":"#39b54a","stroke":"#39b54a","strokeWidth":0.4},"transform":[{"filter":"datum.g>datum.r"}],"encoding":{"x":{"field":"l","type":"quantitative","title":null},"x2":{"field":"u"},"y":{"field":"o","type":"quantitative","title":"S1-S2 interval (ms)"},"y2":{"field":"g"}}},
{"data":{"name":"col"},"mark":{"type":"rect","color":"#be1e2d","stroke":"#be1e2d","strokeWidth":0.4},"transform":[{"filter":"datum.r>datum.b"}],"encoding":{"x":{"field":"l","type":"quantitative","title":null},"x2":{"field":"u"},"y":{"field":"o","type":"quantitative","title":"S1-S2 interval (ms)"},"y2":{"field":"r"}}},
{"data":{"name":"col"},"mark":{"type":"rect","color":"#1174bc","stroke":"#1174bc","strokeWidth":0.8},"encoding":{"x":{"field":"l","type":"quantitative","title":null},"x2":{"field":"u"},"y":{"field":"o","type":"quantitative","title":"S1-S2 interval (ms)"},"y2":{"field":"b"}}},
{"data":{"name":"box"},"mark":{"type":"rect","color":"white"},"encoding":{"x":{"field":"l","type":"quantitative","title":null},"x2":{"field":"u"},"y":{"field":"b","type":"quantitative","title":"S1-S2 interval (ms)"},"y2":{"field":"h"}}},
{"data":{"name":"pts"},"mark":{"type":"point","filled":true,"fill":"white","stroke":"#231f20","strokeWidth":1.1,"size":45,"opacity":1}},
{"data":{"name":"arr"},"transform":[{"filter":"datum.p=='A'"}],"mark":{"type":"rule","color":"#231f20","strokeWidth":1.1},"encoding":{"x2":{"field":"e"},"y2":{"field":"f"}}},
{"data":{"name":"arr"},"transform":[{"filter":"datum.d=='A'"}],"mark":{"type":"point","shape":"triangle","filled":true,"size":45,"color":"#231f20","angle":243,"opacity":1},"encoding":{"x":{"field":"e","type":"quantitative","title":null},"y":{"field":"f","type":"quantitative","title":"S1-S2 interval (ms)"}}},
{"data":{"name":"txt"},"transform":[{"filter":"datum.p=='A'"}],"mark":{"type":"text","font":"Liberation Sans","align":"left","baseline":"alphabetic","fontSize":{"expr":"datum.k=='b'?33:datum.k=='z'?11:datum.k=='x'||datum.k=='y'?19:datum.k=='t'?19.5:16.4"},"fontWeight":{"expr":"datum.k=='b'?'bold':'normal'"},"fontStyle":{"expr":"datum.k=='y'?'italic':'normal'"}},"encoding":{"text":{"field":"s"},"color":{"value":"#231f20"}}}
]},
{"hconcat":[
{"width":167,"height":202.4,"encoding":{"x":{"field":"t","type":"quantitative","axis":null,"scale":{"domain":[0,167]}},"y":{"field":"y","type":"quantitative","title":"cell number","scale":{"domain":[0,300],"reverse":true},"axis":{"values":[0,50,100,150,200,250,300],"labelExpr":"datum.value<=100?datum.value+150:datum.value==150?1:datum.value-150","tickSize":5,"labelPadding":4,"titlePadding":5}}},
"layer":[
{"data":{"name":"base"},"mark":{"type":"rule"},"encoding":{"x2":{"field":"e"},"color":{"field":"y","type":"quantitative","legend":null,"scale":{"type":"threshold","domain":[160,161,260,261],"range":["#000","#ee2b2e","#aaa","#0a6b3a","#000"]}},"strokeWidth":{"field":"y","type":"quantitative","legend":null,"scale":{"type":"threshold","domain":[160,161,260,261],"range":[0.7,2.2,0.7,2.2,0.7]}}}},
{"data":{"name":"ra"},"transform":[{"flatten":["t","y","e"]}],"mark":{"type":"area","orient":"vertical","opacity":0.6,"interpolate":"monotone"},"encoding":{"y2":{"field":"e"},"color":{"field":"z","legend":null,"scale":{"domain":["N","G","L"],"range":["#000","#777","#000"]}},"detail":{"field":"b"}}},
{"data":{"name":"la"},"transform":[{"flatten":["t","y"]}],"mark":{"type":"line","interpolate":"monotone"},"encoding":{"detail":{"field":"n"},"color":{"field":"n","type":"quantitative","legend":null,"scale":{"type":"threshold","domain":[160,161,260,261],"range":["#000","#ee2b2e","#999","#0a6b3a","#000"]}},"strokeWidth":{"field":"n","type":"quantitative","legend":null,"scale":{"type":"threshold","domain":[160,161,260,261],"range":[0.8,2.2,0.8,2.2,0.8]}}}},
{"data":{"name":"arr"},"transform":[{"filter":"datum.p=='a'"}],"mark":{"type":"rule","strokeWidth":1.2},"encoding":{"x2":{"field":"e"},"y2":{"field":"f"},"color":{"field":"d","legend":null,"scale":{"domain":["u","d","n","T"],"range":["#7b3a96","#7b3a96","#7b3a96","#231f20"]}}}},
{"data":{"name":"arr"},"transform":[{"filter":"datum.p=='a'"}],"mark":{"type":"point","shape":"triangle","filled":true,"size":22,"opacity":1},"encoding":{"x":{"field":"e","type":"quantitative"},"y":{"field":"f","type":"quantitative","title":"cell number"},"angle":{"field":"d","legend":null,"scale":{"domain":["u","d","T"],"range":[8,172,90]}},"color":{"field":"d","legend":null,"scale":{"domain":["u","d","n","T"],"range":["#7b3a96","#7b3a96","#7b3a96","#231f20"]}}}},
{"data":{"name":"txt"},"transform":[{"filter":"datum.p=='a'"}],"mark":{"type":"text","font":"Liberation Sans","align":"left","baseline":"alphabetic","fontSize":{"expr":"datum.k=='b'?33:datum.k=='s'?9:16.4"},"fontWeight":{"expr":"datum.k=='b'?'bold':'normal'"},"fontStyle":{"expr":"datum.k=='i'?'italic':'normal'"}},"encoding":{"text":{"field":"s"},"color":{"value":"#231f20"}}}
]},
{"width":162,"height":202.4,"encoding":{"x":{"field":"t","type":"quantitative","axis":null,"scale":{"domain":[0,162]}},"y":{"field":"y","type":"quantitative","axis":null,"scale":{"domain":[0,300],"reverse":true}}},
"layer":[
{"data":{"name":"base"},"mark":{"type":"rule"},"encoding":{"x":{"field":"u","type":"quantitative"},"x2":{"field":"w"},"color":{"field":"y","type":"quantitative","legend":null,"scale":{"type":"threshold","domain":[160,161,260,261],"range":["#000","#c8202f","#aaa","#0a6b3a","#000"]}},"strokeWidth":{"field":"y","type":"quantitative","legend":null,"scale":{"type":"threshold","domain":[160,161,260,261],"range":[0.7,2.2,0.7,2.2,0.7]}}}},
{"data":{"name":"rb"},"transform":[{"flatten":["t","y","e"]}],"mark":{"type":"area","orient":"vertical","opacity":0.6,"interpolate":"monotone"},"encoding":{"y2":{"field":"e"},"color":{"field":"z","legend":null,"scale":{"domain":["N","G","L"],"range":["#000","#777","#000"]}},"detail":{"field":"b"}}},
{"data":{"name":"lb"},"transform":[{"flatten":["t","y"]}],"mark":{"type":"line","interpolate":"monotone"},"encoding":{"detail":{"field":"n"},"color":{"field":"n","type":"quantitative","legend":null,"scale":{"type":"threshold","domain":[160,161,260,261],"range":["#000","#c8202f","#999","#0a6b3a","#000"]}},"strokeWidth":{"field":"n","type":"quantitative","legend":null,"scale":{"type":"threshold","domain":[160,161,260,261],"range":[0.8,2.2,0.8,2.2,0.8]}}}},
{"data":{"name":"arr"},"transform":[{"filter":"datum.p=='b'"}],"mark":{"type":"rule","strokeWidth":1.2,"color":"#7b3a96"},"encoding":{"x2":{"field":"e"},"y2":{"field":"f"}}},
{"data":{"name":"arr"},"transform":[{"filter":"datum.p=='b'"}],"mark":{"type":"point","shape":"triangle","filled":true,"size":22,"opacity":1,"color":"#7b3a96"},"encoding":{"x":{"field":"e","type":"quantitative"},"y":{"field":"f","type":"quantitative"},"angle":{"field":"d","legend":null,"scale":{"domain":["u","d"],"range":[8,172]}}}},
{"data":{"name":"txt"},"transform":[{"filter":"datum.p=='b'"}],"mark":{"type":"text","font":"Liberation Sans","align":{"expr":"datum.k=='r'?'center':'left'"},"baseline":"alphabetic","angle":{"expr":"datum.k=='r'?270:0"},"fontSize":{"expr":"datum.k=='b'?33:datum.k=='s'?9:datum.k=='t'||datum.k=='r'?18.5:16.4"},"fontWeight":{"expr":"datum.k=='b'?'bold':'normal'"},"fontStyle":{"expr":"datum.k=='i'?'italic':'normal'"}},"encoding":{"text":{"field":"s"},"color":{"value":"#231f20"}}}
]}
],"spacing":12,"bounds":"flush"},
{"hconcat":[
{"width":167,"height":202.4,"encoding":{"x":{"field":"t","type":"quantitative","axis":null,"scale":{"domain":[0,167]}},"y":{"field":"y","type":"quantitative","title":"cell number","scale":{"domain":[0,300],"reverse":true},"axis":{"values":[0,50,100,150,200,250,300],"labelExpr":"datum.value<=100?datum.value+150:datum.value==150?1:datum.value-150","tickSize":5,"labelPadding":4,"titlePadding":5}}},
"layer":[
{"data":{"name":"base"},"mark":{"type":"rule"},"encoding":{"x2":{"field":"e"},"color":{"field":"y","type":"quantitative","legend":null,"scale":{"type":"threshold","domain":[160,161,260,261],"range":["#000","#c8202f","#aaa","#0a6b3a","#000"]}},"strokeWidth":{"field":"y","type":"quantitative","legend":null,"scale":{"type":"threshold","domain":[160,161,260,261],"range":[0.7,2.2,0.7,2.2,0.7]}}}},
{"data":{"name":"rc"},"transform":[{"flatten":["t","y","e"]}],"mark":{"type":"area","orient":"vertical","opacity":0.6,"interpolate":"monotone"},"encoding":{"y2":{"field":"e"},"color":{"field":"z","legend":null,"scale":{"domain":["N","G","L"],"range":["#000","#777","#000"]}},"detail":{"field":"b"}}},
{"data":{"name":"lc"},"transform":[{"flatten":["t","y"]}],"mark":{"type":"line","interpolate":"monotone"},"encoding":{"detail":{"field":"n"},"color":{"field":"n","type":"quantitative","legend":null,"scale":{"type":"threshold","domain":[160,161,260,261],"range":["#000","#c8202f","#999","#0a6b3a","#000"]}},"strokeWidth":{"field":"n","type":"quantitative","legend":null,"scale":{"type":"threshold","domain":[160,161,260,261],"range":[0.8,2.2,0.8,2.2,0.8]}}}},
{"data":{"name":"arr"},"transform":[{"filter":"datum.p=='c'"}],"mark":{"type":"rule","strokeWidth":1.2},"encoding":{"x2":{"field":"e"},"y2":{"field":"f"},"color":{"field":"d","legend":null,"scale":{"domain":["u","T"],"range":["#7b3a96","#555"]}}}},
{"data":{"name":"arr"},"transform":[{"filter":"datum.p=='c'"}],"mark":{"type":"point","shape":"triangle","filled":true,"size":22,"opacity":1},"encoding":{"x":{"field":"e","type":"quantitative"},"y":{"field":"f","type":"quantitative","title":"cell number"},"angle":{"field":"d","legend":null,"scale":{"domain":["u","T"],"range":[8,90]}},"color":{"field":"d","legend":null,"scale":{"domain":["u","T"],"range":["#7b3a96","#555"]}}}},
{"data":{"name":"txt"},"transform":[{"filter":"datum.p=='c'"}],"mark":{"type":"text","font":"Liberation Sans","align":"left","baseline":"alphabetic","fontSize":{"expr":"datum.k=='b'?33:datum.k=='s'?9:datum.k=='d'?17:16.4"},"fontWeight":{"expr":"datum.k=='b'?'bold':'normal'"},"fontStyle":{"expr":"datum.k=='i'?'italic':'normal'"}},"encoding":{"text":{"field":"s"},"color":{"condition":{"test":"datum.k=='d'","value":"#ec1c8c"},"value":"#231f20"}}}
]},
{"width":162,"height":202.4,"encoding":{"x":{"field":"t","type":"quantitative","axis":null,"scale":{"domain":[0,162]}},"y":{"field":"y","type":"quantitative","axis":null,"scale":{"domain":[0,300],"reverse":true}}},
"layer":[
{"data":{"name":"base"},"mark":{"type":"rule"},"encoding":{"x":{"field":"u","type":"quantitative"},"x2":{"field":"w"},"color":{"field":"y","type":"quantitative","legend":null,"scale":{"type":"threshold","domain":[160,161,260,261],"range":["#000","#c8202f","#aaa","#0a6b3a","#000"]}},"strokeWidth":{"field":"y","type":"quantitative","legend":null,"scale":{"type":"threshold","domain":[160,161,260,261],"range":[0.7,2.2,0.7,2.2,0.7]}}}},
{"data":{"name":"rd"},"transform":[{"flatten":["t","y","e"]}],"mark":{"type":"area","orient":"vertical","opacity":0.6,"interpolate":"monotone"},"encoding":{"y2":{"field":"e"},"color":{"field":"z","legend":null,"scale":{"domain":["N","G","L"],"range":["#000","#777","#000"]}},"detail":{"field":"b"}}},
{"data":{"name":"ld"},"transform":[{"flatten":["t","y"]}],"mark":{"type":"line","interpolate":"monotone"},"encoding":{"detail":{"field":"n"},"color":{"field":"n","type":"quantitative","legend":null,"scale":{"type":"threshold","domain":[160,161,260,261],"range":["#000","#c8202f","#999","#0a6b3a","#000"]}},"strokeWidth":{"field":"n","type":"quantitative","legend":null,"scale":{"type":"threshold","domain":[160,161,260,261],"range":[0.8,2.2,0.8,2.2,0.8]}}}},
{"data":{"name":"arr"},"transform":[{"filter":"datum.p=='d'"}],"mark":{"type":"rule","strokeWidth":1.2,"color":"#7b3a96"},"encoding":{"x2":{"field":"e"},"y2":{"field":"f"}}},
{"data":{"name":"arr"},"transform":[{"filter":"datum.p=='d'&&datum.d=='u'"}],"mark":{"type":"point","shape":"triangle","filled":true,"size":22,"angle":8,"opacity":1,"color":"#7b3a96"},"encoding":{"x":{"field":"e","type":"quantitative"},"y":{"field":"f","type":"quantitative"}}},
{"data":{"name":"txt"},"transform":[{"filter":"datum.p=='d'"}],"mark":{"type":"text","font":"Liberation Sans","align":{"expr":"datum.k=='r'?'center':'left'"},"baseline":"alphabetic","angle":{"expr":"datum.k=='r'?270:0"},"fontSize":{"expr":"datum.k=='b'?33:datum.k=='s'?9:datum.k=='d'?17:datum.k=='t'||datum.k=='r'?18.5:16.4"},"fontWeight":{"expr":"datum.k=='b'?'bold':'normal'"},"fontStyle":{"expr":"datum.k=='i'?'italic':'normal'"}},"encoding":{"text":{"field":"s"},"color":{"condition":{"test":"datum.k=='d'","value":"#ec1c8c"},"value":"#231f20"}}}
]}
],"spacing":12,"bounds":"flush"}
]}
